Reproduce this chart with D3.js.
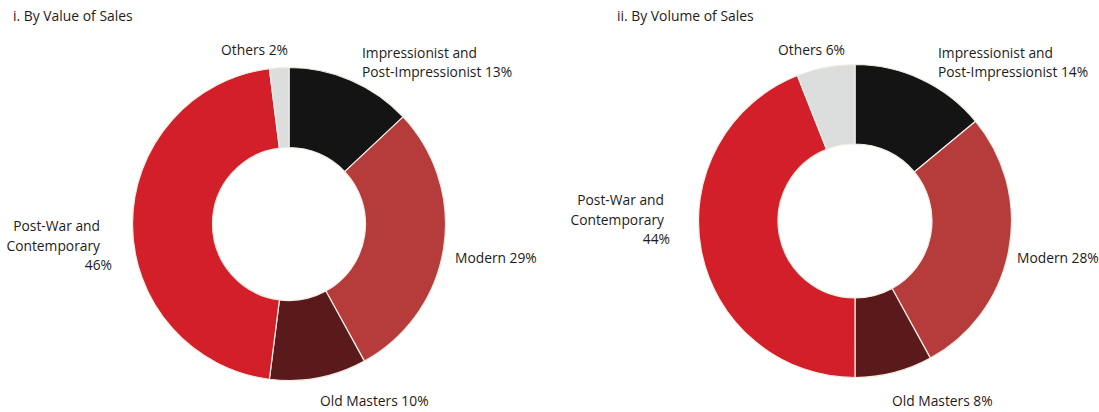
<!DOCTYPE html>
<html>
<head>
<meta charset="utf-8">
<script src="https://cdn.jsdelivr.net/npm/d3@7"></script>
<style>
  html, body { margin: 0; padding: 0; background: #fff; }
  svg { display: block; }
  text { font-family: "Open Sans", "Noto Sans", sans-serif; fill: #1e1b1c; }
</style>
</head>
<body>
<svg id="chart" width="1099" height="412"></svg>
<script>
// Art auction market share by sector
const categories = [
  "Impressionist and Post-Impressionist",
  "Modern",
  "Old Masters",
  "Post-War and Contemporary",
  "Others"
];
const valueShares = [13, 29, 10, 46, 2];   // % of sales value
const volumeShares = [14, 28, 8, 44, 6];   // % of sales volume
const panelTitles = ["i. By Value of Sales", "ii. By Volume of Sales"];
// How each category name is broken over lines in its label
const labelLines = [
  ["Impressionist and", "Post-Impressionist"],
  ["Modern"],
  ["Old Masters"],
  ["Post-War and", "Contemporary"],
  ["Others"]
];

const colors = d3.scaleOrdinal()
  .domain(categories)
  .range(["#141414", "#b53c3b", "#5a1a1b", "#d21f2a", "#dcdedd"]);

// Panel layout: donut centre, radii and label anchors
const panels = [
  {
    values: valueShares, title: panelTitles[0], titleX: 13,
    cx: 289, cy: 224, outer: 156.5, inner: 76.5,
    labels: [
      { x: 362, y: 58, anchor: "start", lh: 19 },
      { x: 455, y: 263, anchor: "start" },
      { x: 320, y: 406, anchor: "start" },
      { x: 100, y: 231, anchor: "end", lh: 19.5, pctOwnLine: true, pctX: 112 },
      { x: 288, y: 55, anchor: "end" }
    ]
  },
  {
    values: volumeShares, title: panelTitles[1], titleX: 617,
    cx: 855, cy: 221, outer: 156.5, inner: 77,
    labels: [
      { x: 938, y: 58, anchor: "start", lh: 19 },
      { x: 1017, y: 263, anchor: "start" },
      { x: 892, y: 406, anchor: "start" },
      { x: 664, y: 205, anchor: "end", lh: 19.5, pctOwnLine: true, pctX: 670 },
      { x: 845, y: 55, anchor: "end" }
    ]
  }
];

const svg = d3.select("#chart");

const pie = d3.pie()
  .sort(null)
  .value(d => d.value)
  .startAngle(0)
  .endAngle(2 * Math.PI);

panels.forEach(p => {
  const data = categories.map((c, i) => ({ category: c, value: p.values[i], index: i }));
  const arc = d3.arc().innerRadius(p.inner).outerRadius(p.outer);

  svg.append("text")
    .attr("x", p.titleX)
    .attr("y", 21)
    .attr("font-size", 13.9)
    .text(p.title);

  const g = svg.append("g").attr("transform", `translate(${p.cx},${p.cy})`);
  g.selectAll("path")
    .data(pie(data))
    .join("path")
    .attr("d", arc)
    .attr("fill", d => colors(d.data.category))
    .attr("stroke", "#f3ede4")
    .attr("stroke-width", 1.2)
    .attr("stroke-linejoin", "round");

  // Slice labels
  data.forEach(d => {
    const L = p.labels[d.index];
    const lines = labelLines[d.index].slice();
    const pct = d.value + "%";
    const t = svg.append("text")
      .attr("font-size", 13.8)
      .attr("text-anchor", L.anchor);
    if (L.pctOwnLine) {
      lines.forEach((ln, k) => {
        t.append("tspan").attr("x", L.x).attr("y", L.y + k * L.lh).text(ln);
      });
      t.append("tspan").attr("x", L.pctX).attr("y", L.y + lines.length * L.lh).text(pct);
    } else {
      lines[lines.length - 1] += " " + pct;
      lines.forEach((ln, k) => {
        t.append("tspan").attr("x", L.x).attr("y", L.y + k * (L.lh || 0)).text(ln);
      });
    }
  });
});
</script>
</body>
</html>
